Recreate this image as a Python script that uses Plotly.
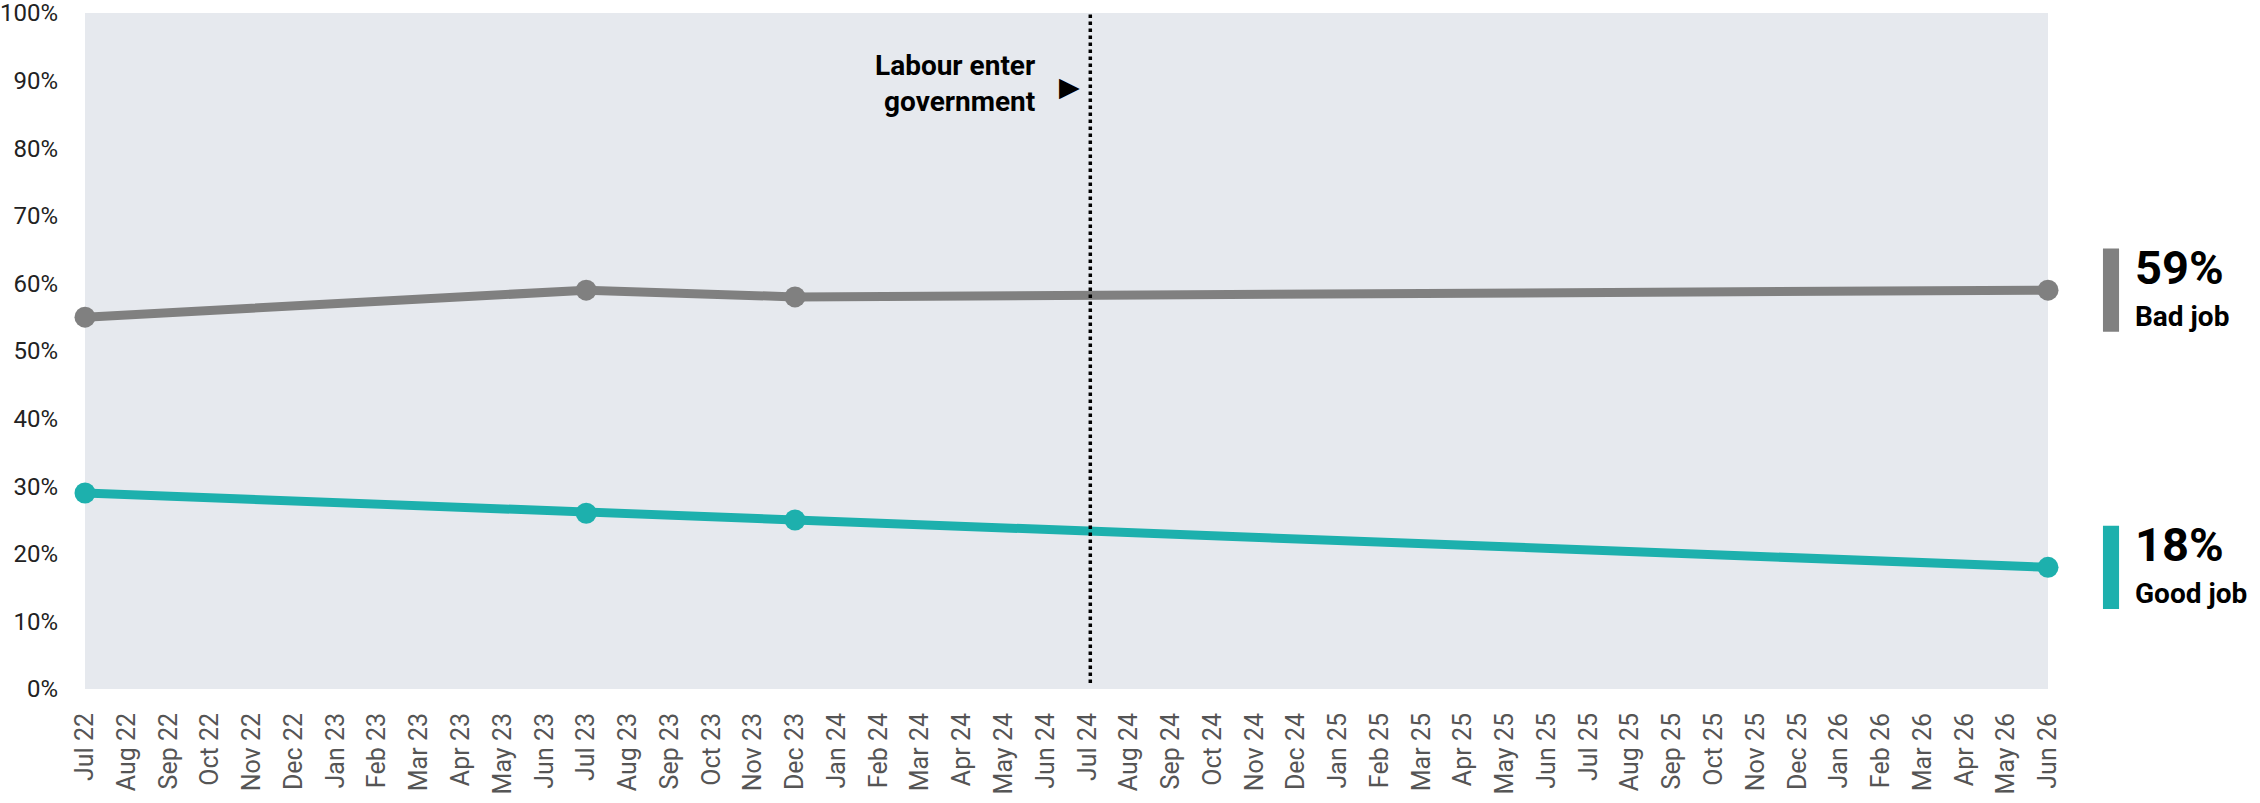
import plotly.graph_objects as go

months = ["Jul 22","Aug 22","Sep 22","Oct 22","Nov 22","Dec 22","Jan 23","Feb 23","Mar 23","Apr 23","May 23","Jun 23",
          "Jul 23","Aug 23","Sep 23","Oct 23","Nov 23","Dec 23","Jan 24","Feb 24","Mar 24","Apr 24","May 24","Jun 24",
          "Jul 24","Aug 24","Sep 24","Oct 24","Nov 24","Dec 24","Jan 25","Feb 25","Mar 25","Apr 25","May 25","Jun 25",
          "Jul 25","Aug 25","Sep 25","Oct 25","Nov 25","Dec 25","Jan 26","Feb 26","Mar 26","Apr 26","May 26","Jun 26"]

survey_dates = ["Jul 22", "Jul 23", "Dec 23", "Jun 26"]
bad_job = [55, 59, 58, 59]
good_job = [29, 26, 25, 18]

y_ticks = [0, 10, 20, 30, 40, 50, 60, 70, 80, 90, 100]
y_tick_labels = [f"{v}%" for v in y_ticks]

event_month = "Jul 24"
event_label = "Labour enter<br>government"

GREY = "#808080"
TEAL = "#1db0ad"
FONT = "Roboto, Arial, sans-serif"

fig = go.Figure()
series = [("Bad job", bad_job, GREY), ("Good job", good_job, TEAL)]
for name, vals, col in series:
    fig.add_trace(go.Scatter(
        x=survey_dates, y=vals, mode="lines+markers", name=name,
        line=dict(color=col, width=9), marker=dict(color=col, size=21),
        cliponaxis=False, showlegend=False, hoverinfo="skip"))

ev_idx = months.index(event_month)
fig.add_shape(type="line", xref="x", yref="paper", x0=ev_idx, x1=ev_idx, y0=0.009, y1=1.0,
              x0shift=0.07, x1shift=0.07,
              line=dict(color="black", width=3.5, dash="dot"))

fig.add_annotation(x=ev_idx, xref="x", y=0.895, yref="paper", text="<b>" + event_label + "</b>",
                   showarrow=False, xanchor="right", yanchor="middle", align="right", xshift=-50,
                   font=dict(family=FONT, size=28, color="black"))
fig.add_annotation(x=ev_idx, xref="x", y=0.892, yref="paper", text="▶",
                   showarrow=False, xanchor="center", yanchor="middle", xshift=-18,
                   font=dict(family="DejaVu Sans", size=27, color="black"))

for name, vals, col in series:
    v = vals[-1]
    fig.add_shape(type="rect", xref="paper", yref="y", x0=1.0280, x1=1.0362, y0=v - 6.15, y1=v + 6.15,
                  fillcolor=col, line=dict(width=0))
    fig.add_annotation(x=1.0435, xref="paper", y=v, yref="y", text=f"<b>{v}%</b>", showarrow=False,
                       xanchor="left", yanchor="middle", yshift=23,
                       font=dict(family=FONT, size=47, color="black"))
    fig.add_annotation(x=1.0435, xref="paper", y=v, yref="y", text=f"<b>{name}</b>", showarrow=False,
                       xanchor="left", yanchor="middle", yshift=-26,
                       font=dict(family=FONT, size=28, color="black"))

fig.update_layout(
    width=2260, height=803,
    margin=dict(l=85, r=212, t=13, b=114, autoexpand=False),
    paper_bgcolor="white", plot_bgcolor="#e6e9ee",
    font=dict(family=FONT),
    xaxis=dict(type="category", categoryorder="array", categoryarray=months,
               range=[0, len(months) - 1], tickmode="array", tickvals=months, ticktext=months,
               tickangle=-90, showgrid=False, zeroline=False, showline=False, ticks="",
               ticklabelstandoff=18,
               tickfont=dict(family=FONT, size=25, color="#555555")),
    yaxis=dict(range=[0, 100], tickvals=y_ticks, ticktext=y_tick_labels, showgrid=False,
               zeroline=False, showline=False, ticks="", ticklabelstandoff=26,
               ticklabeloverflow="allow",
               tickfont=dict(family=FONT, size=24, color="#222222")),
)

fig.write_html("out.html", config={"displayModeBar": False},
               post_script="document.body.style.margin='0';document.body.style.overflow='hidden';")
